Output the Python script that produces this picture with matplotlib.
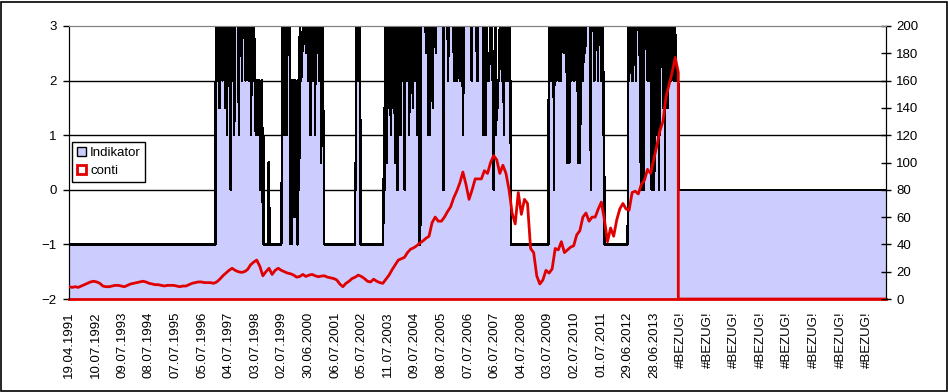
import numpy as np
import matplotlib
matplotlib.use('Agg')
import matplotlib.pyplot as plt
import matplotlib.patches as mpatches

plt.rcParams['font.family'] = ['Liberation Sans', 'DejaVu Sans']

# weekly categories, one label every 52 weeks
n_points = 1598
label_step = 52
date_labels = ['19.04.1991', '10.07.1992', '09.07.1993', '08.07.1994', '07.07.1995',
               '05.07.1996', '04.07.1997', '03.07.1998', '02.07.1999', '30.06.2000',
               '06.07.2001', '05.07.2002', '11.07.2003', '09.07.2004', '08.07.2005',
               '07.07.2006', '06.07.2007', '04.07.2008', '03.07.2009', '02.07.2010',
               '01.07.2011', '29.06.2012', '28.06.2013']
bezug_labels = ['#BEZUG!'] * 8

# Indikator as (value, number of weeks) runs
ind_start = [(-1, 287)]
ind_block_a = [(3, 2), (2, 2), (3, 2), (1.5, 2), (3, 2),
               (3, 3), (2, 1), (3, 2),
               (3, 2), (1.5, 2), (3, 2), (1, 1), (3, 2), (2, 2), (3, 1),
               (3, 1), (0, 1),
               (3, 2), (2, 2), (3, 2), (1, 1), (3, 1),
               (3, 7), (1, 1), (3, 5), (2, 1), (3, 6), (2, 1), (3, 5), (2, 1), (3, 4), (1, 1), (3, 3), (2, 1),
               (3, 2), (2, 2), (1, 2), (2, 2), (1, 3), (2, 1), (1, 1), (0, 1), (1, 2), (2, 1), (1, 1)]
ind_gap1 = [(-1, 1), (1, 1), (-1, 9), (0.5, 2), (-1, 24)]
ind_block_b = [(0.5, 1), (3, 1), (1, 1),
               (3, 2), (1, 1), (2, 2), (3, 2), (1, 1), (3, 2),
               (3, 2), (2.5, 1), (3, 1), (-1, 1), (2, 2), (-1, 1),
               (2, 2), (0, 2), (-0.5, 1), (2, 2), (0, 1), (1, 2), (-1, 1), (2, 2), (0, 1), (3, 2), (2, 2),
               (2.5, 2), (3, 6), (2.5, 1), (3, 4), (2, 1), (3, 3), (1, 1), (3, 4), (2, 1), (3, 3), (1, 1),
               (3, 3), (2.5, 1), (3, 3), (2, 1), (3, 3),
               (0.5, 1), (2, 1), (3, 2), (1.5, 1), (1, 1)]
ind_gap2 = [(-1, 61)]
ind_block_b2 = [(0.5, 2), (3, 1), (2, 1), (3, 3), (2, 1), (3, 2)]
ind_gap3 = [(-1, 45)]
ind_block_c = [(0, 1), (1.5, 1), (0, 1), (1.5, 1),
               (3, 2), (0.5, 1), (2, 2), (3, 2), (1.5, 1), (3, 2), (1, 1), (2, 2), (3, 2), (1.5, 1), (3, 2),
               (0.5, 1), (3, 2), (1.5, 1), (2, 1), (0, 1),
               (3, 5), (1, 1), (3, 3), (2, 1), (3, 3), (0, 1), (3, 4), (2, 1), (3, 3), (1, 1), (3, 3), (2, 1),
               (3, 2), (1.5, 1), (3, 4), (2, 1), (3, 3), (1, 1), (3, 2),
               (-0.5, 1), (-1, 2), (-0.5, 1),
               (3, 10), (2.5, 1), (3, 4), (1, 1), (3, 1), (1, 1), (3, 5), (1.5, 1), (3, 5), (2.5, 1), (3, 9),
               (3, 5), (0, 1),
               (3, 8), (2, 1), (3, 7),
               (3, 3), (2.5, 1), (2, 2), (3, 3), (2, 2), (3, 5),
               (2, 2), (3, 3), (1, 1), (2, 1), (3, 9),
               (3, 6), (2, 1), (3, 9), (2.5, 1), (2, 2), (3, 10),
               (1, 1), (3, 2), (1.5, 1), (1, 1), (1.5, 1), (3, 2), (2, 4), (2.5, 2), (3, 2),
               (3, 2), (2, 2), (0, 1), (2, 1), (1.5, 1), (3, 2), (1, 1), (2, 2), (1.5, 1), (2, 2), (2.5, 1), (3, 4),
               (2, 2), (3, 2), (1, 1), (3, 2), (2, 2), (3, 3), (2, 2), (3, 2), (2, 2)]
ind_gap4 = [(-1, 74)]
ind_block_d = [(3, 3), (2, 1), (3, 3), (2, 1),
               (3, 2), (0, 1), (3, 3), (2, 1), (2.5, 1), (3, 3), (2, 1), (3, 3), (2, 1),
               (3, 5), (2.5, 1), (3, 5), (2, 1),
               (0.5, 1), (3, 3), (0.5, 1), (3, 3), (2, 1), (3, 1),
               (3, 4), (2, 1), (3, 5),
               (2.5, 1), (0.5, 1), (3, 3), (0.5, 1), (2, 1), (3, 4), (2, 1), (3, 3), (2.5, 1), (3, 4),
               (3, 6), (0, 1), (3, 6), (2, 1), (3, 6), (2, 1), (3, 5), (2, 1), (3, 4), (1, 1)]
ind_gap5 = [(1, 1), (-1, 46)]
ind_block_e = [(3, 2), (2, 1), (2.5, 2), (3, 3), (2, 2),
               (3, 5), (2, 1), (3, 7), (2, 1),
               (1, 1), (0, 1), (1, 1), (3, 3), (0, 1), (2, 1), (3, 2),
               (3, 4), (2, 1), (3, 4), (2, 1),
               (3, 2), (0, 1), (1, 1), (3, 3), (0, 1), (3, 3), (1, 1), (2, 1), (3, 3), (0, 1), (2, 1), (1, 1),
               (3, 1),
               (3, 4), (1.5, 1), (3, 3), (0, 1), (3, 4), (1.5, 1), (3, 5), (2, 1), (3, 5), (2, 1), (3, 3),
               (2, 6)]

indikator_runs = (ind_start + ind_block_a + ind_gap1 + ind_block_b + ind_gap2 + ind_block_b2
                  + ind_gap3 + ind_block_c + ind_gap4 + ind_block_d + ind_gap5 + ind_block_e)

# conti, one reading every 6 weeks
conti = [9, 8.5, 9, 8.5, 9.5, 10.5, 11.5, 12.5, 13, 12.5,
         11.5, 9.5, 9, 9, 9.5, 10, 10, 9.5, 9, 10,
         11, 11.5, 12, 12.5, 13, 12.5, 11.5, 11, 10.5, 10.5,
         10, 9.5, 10, 10, 10, 9.5, 9, 9.5, 9.5, 10.5,
         11.5, 12, 12.5, 12.5, 12, 12, 12, 11.5, 12.5, 14.5,
         17, 19, 21, 22.5, 21, 20, 19.5, 20, 21.5, 25,
         27, 28.5, 24, 17, 20, 22.5, 18, 21, 22.5, 21,
         20, 19, 18.5, 17.5, 16, 16.5, 18, 16.5, 17.5, 18,
         17, 16.3, 16.8, 17, 16, 15.5, 15, 14, 11, 9,
         11.5, 13, 15, 16, 17.5, 16.5, 15, 13, 12.5, 14.5,
         13, 12, 11.5, 14.5, 17.5, 21.5, 25, 28.5, 29.5, 30.5,
         34, 36.5, 37.5, 39, 41, 42.5, 44.5, 46, 56, 60,
         57, 57, 60, 64, 67.5, 74, 79, 85, 93, 84,
         73, 80, 88, 88, 88, 94, 92, 100, 105, 102,
         92, 98, 92, 80, 63, 55, 78, 62, 73, 70,
         37, 34, 17, 11, 14, 21, 19, 22, 37, 36,
         42, 34, 36, 38, 39, 47, 50, 60, 63, 57,
         60, 60, 66, 71, 58, 42, 52, 46, 58, 66,
         70, 66, 65, 78, 79, 77, 84, 87, 95, 92,
         102, 112, 123, 130, 148, 157, 166, 177, 166]

ind = np.concatenate([np.full(n, v, dtype=float) for v, n in indikator_runs])
n_real = len(ind)
ind = np.r_[ind, np.zeros(n_points - n_real)]
x = np.arange(n_points)

conti_x = np.linspace(0, n_real - 1, len(conti))
conti_x = np.r_[conti_x, conti_x[-1], n_points - 1]
conti_y = np.r_[conti, 0, 0]

fig = plt.figure(figsize=(9.48, 3.92), dpi=100)
ax1 = fig.add_axes([69 / 948, 93 / 392, 817 / 948, 273 / 392])
ax2 = ax1.twinx()

ax1.fill_between(x, ind, -2, color='#CCCCFF', lw=0, zorder=2, antialiased=False)
ax1.plot(x, ind, color='black', lw=1, zorder=3, antialiased=False)
for yv in [-1, 0, 1, 2]:
    ax1.axhline(yv, color='black', lw=1, zorder=1)

ax2.plot(conti_x, conti_y, color='#E00000', lw=2, zorder=4)

ax1.set_xlim(0, n_points - 1)
ax1.set_ylim(-2, 3)
ax2.set_ylim(0, 200)
ax1.set_yticks(range(-2, 4))
ax2.set_yticks(range(0, 201, 20))

ticks = [i * label_step for i in range(len(date_labels) + len(bezug_labels))]
ax1.set_xticks(ticks)
ax1.set_xticklabels(date_labels + bezug_labels, rotation=90, va='top', ha='center')
ax1.tick_params(axis='x', length=0, pad=9, labelsize=9.5)
ax1.tick_params(axis='y', direction='out', length=4, width=1, pad=5, labelsize=9.5)
ax2.tick_params(axis='y', direction='inout', length=7, width=1, pad=4, labelsize=9.5)

for a in (ax1, ax2):
    a.spines['top'].set_color('grey')
    a.spines['left'].set_color('black')
    a.spines['right'].set_color('black')
    a.spines['bottom'].set_color('#E00000')
    a.spines['bottom'].set_linewidth(2)
ax2.spines['bottom'].set_visible(False)

handles = [mpatches.Patch(facecolor='#CCCCFF', edgecolor='black', lw=1, label='Indikator'),
           mpatches.Patch(facecolor='white', edgecolor='#E00000', lw=2, label='conti')]
leg = ax2.legend(handles=handles, loc='upper left', bbox_to_anchor=(0.004, 0.574),
                 fontsize=9.5, fancybox=False, framealpha=1, edgecolor='black',
                 handlelength=0.7, handleheight=0.7, handletextpad=0.3,
                 borderpad=0.35, labelspacing=0.45, borderaxespad=0)
leg.get_frame().set_linewidth(1)

fig.patches.append(mpatches.Rectangle((0.5 / 948, 1.5 / 392), 946 / 948, 389 / 392,
                                      transform=fig.transFigure, fill=False,
                                      edgecolor='black', lw=1.2))

fig.savefig('out.png', dpi=100)
